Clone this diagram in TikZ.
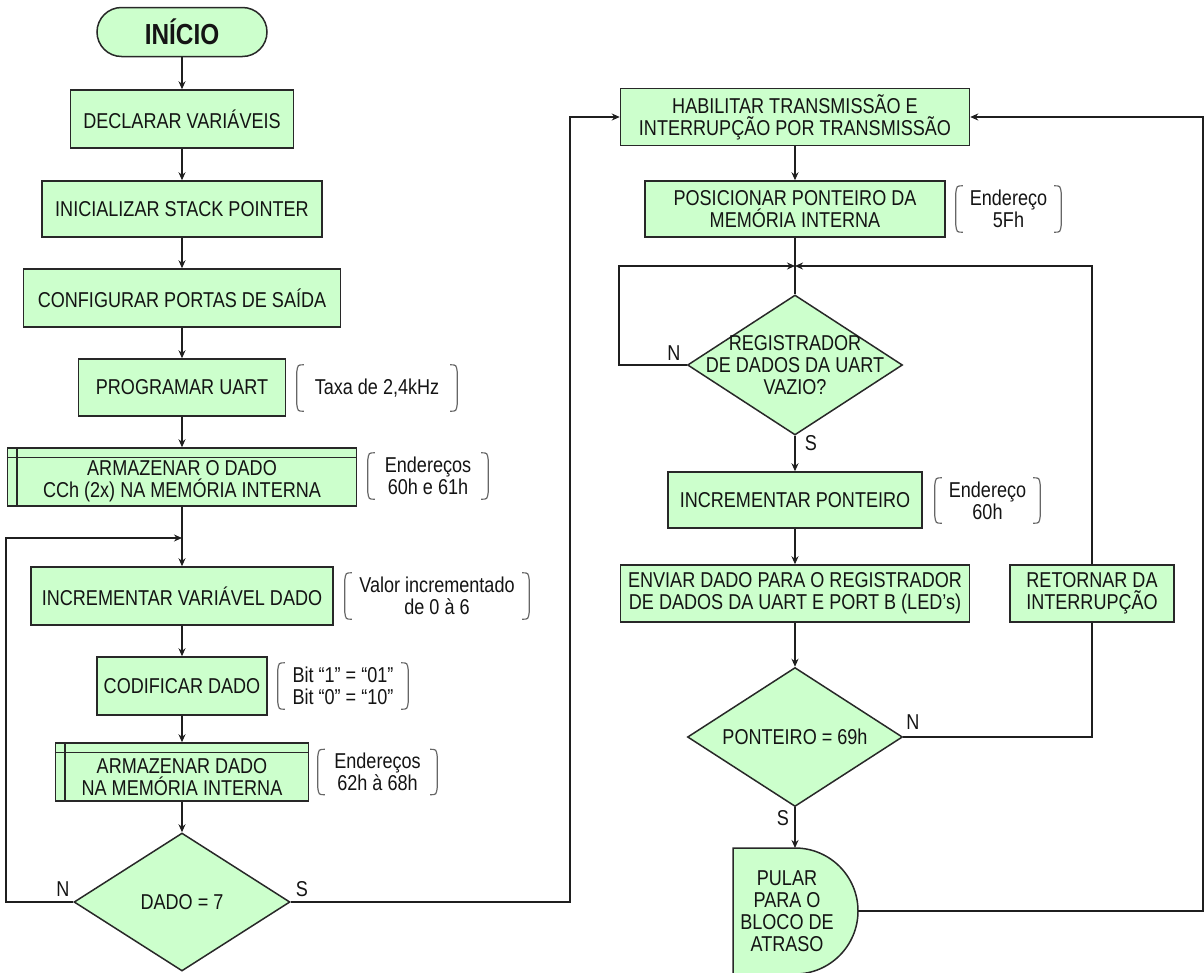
\documentclass[tikz,border=0pt]{standalone}
\usepackage{fontspec}
\setmainfont{Liberation Sans}[FakeStretch=0.84]
\usepackage{tikz}
\usetikzlibrary{shapes.geometric}
\usetikzlibrary{arrows.meta}

\definecolor{boxgreen}{RGB}{204,255,204}
\definecolor{edgegray}{RGB}{40,40,40}

\begin{document}
\begin{tikzpicture}[x=1pt, y=-1pt,
  every node/.style={font=\fontsize{21.5}{22}\selectfont, text=black!92, align=center},
  proc/.style={draw=edgegray, line width=1.5pt, fill=boxgreen, inner sep=0pt},
  decision/.style={diamond, draw=edgegray, line width=1.5pt, fill=boxgreen, inner sep=0pt},
  note/.style={inner sep=0pt},
  flow/.style={line width=1.8pt, draw=black!88},
  arr/.style={flow, -{Stealth[length=8pt,width=7pt]}},
  brk/.style={line width=1.2pt, draw=black!60}]
\useasboundingbox (0,0) rectangle (1204,972);

% coluna principal
\node[proc, rounded corners=24.5pt, minimum width=170, minimum height=49,
      font=\fontsize{29}{30}\selectfont\bfseries] (inicio) at (182,32) {INÍCIO};
\node[proc, minimum width=223, minimum height=58] (decl) at (182,119) {DECLARAR VARIÁVEIS};
\node[proc, minimum width=280, minimum height=56] (stack) at (182,209) {INICIALIZAR STACK POINTER};
\node[proc, minimum width=317, minimum height=58] (portas) at (182,298) {CONFIGURAR PORTAS DE SAÍDA};
\node[proc, minimum width=207, minimum height=57] (uart) at (182,387.5) {PROGRAMAR UART};
\node[proc, minimum width=349, minimum height=58,
      label={[yshift=-4pt]center:ARMAZENAR O DADO\\CCh (2x) NA MEMÓRIA INTERNA}] (armA) at (182,477) {};
\node[proc, minimum width=302, minimum height=58] (incvar) at (182,596) {INCREMENTAR VARIÁVEL DADO};
\node[proc, minimum width=170, minimum height=58] (cod) at (182,686) {CODIFICAR DADO};
\node[proc, minimum width=253, minimum height=58,
      label={[yshift=-5pt]center:ARMAZENAR DADO\\NA MEMÓRIA INTERNA}] (armB) at (182,772) {};
\node[decision, minimum width=216, minimum height=138,
      label={center:DADO = 7}] (dado) at (182,902) {};

% anotacoes
\node[note, minimum width=160, minimum height=46] (n1) at (377,388) {Taxa de 2,4kHz};
\node[note, minimum width=120, minimum height=46] (n2) at (428,476) {Endereços\\60h e 61h};
\node[note, minimum width=184, minimum height=46] (n3) at (437,596) {Valor incrementado\\de 0 à 6};
\node[note, minimum width=130, minimum height=46] (n4) at (343,686) {Bit “1” = “01”\\Bit “0” = “10”};
\node[note, minimum width=119, minimum height=45] (n5) at (377.5,772) {Endereços\\62h à 68h};

% coluna da transmissao
\node[proc, minimum width=349, minimum height=57] (hab) at (795,117) {HABILITAR TRANSMISSÃO E\\INTERRUPÇÃO POR TRANSMISSÃO};
\node[proc, minimum width=300, minimum height=56] (pos) at (795,209) {POSICIONAR PONTEIRO DA\\MEMÓRIA INTERNA};
\node[decision, minimum width=215, minimum height=140,
      label={[align=center]center:REGISTRADOR\\DE DADOS DA UART\\VAZIO?}] (reg) at (795,365) {};
\node[proc, minimum width=254, minimum height=56] (incp) at (795,500) {INCREMENTAR PONTEIRO};
\node[proc, minimum width=349, minimum height=57] (env) at (795,593.5) {ENVIAR DADO PARA O REGISTRADOR\\DE DADOS DA UART E PORT B (LED's)};
\node[proc, minimum width=164, minimum height=57] (ret) at (1092,593.5) {RETORNAR DA\\INTERRUPÇÃO};
\node[decision, minimum width=215, minimum height=139,
      label={center:PONTEIRO = 69h}] (pont) at (795,737) {};

\node[note, minimum width=105, minimum height=46] (n6) at (1008.5,209) {Endereço\\5Fh};
\node[note, minimum width=105, minimum height=45] (n7) at (987.5,500.5) {Endereço\\60h};

% bloco de atraso
\filldraw[draw=edgegray, line width=1.5pt, fill=boxgreen]
  (733,848) -- (795,848) .. controls (829.8,848) and (858,876.2) .. (858,911)
  .. controls (858,945.8) and (829.8,974) .. (795,974) -- (733,974) -- cycle;
\node (delay) at (787,911) {PULAR\\PARA O\\BLOCO DE\\ATRASO};
\coordinate (delaytop) at (795,848);
\coordinate (delayout) at (858,911);

% linhas internas dos processos predefinidos
\foreach \n in {armA,armB}
  \draw[draw=edgegray, line width=1.5pt]
    ([yshift=-10pt]\n.north west) -- ([yshift=-10pt]\n.north east)
    ([xshift=10pt]\n.north west) -- ([xshift=10pt]\n.south west);

% colchetes das anotacoes
\foreach \n in {n1,n2,n3,n4,n5,n6,n7}{
  \draw[brk] ([xshift=7pt]\n.north west) .. controls ([xshift=1pt]\n.north west) .. ([yshift=-7pt]\n.north west)
    -- ([yshift=7pt]\n.south west) .. controls ([xshift=1pt]\n.south west) .. ([xshift=7pt]\n.south west);
  \draw[brk] ([xshift=-7pt]\n.north east) .. controls ([xshift=-1pt]\n.north east) .. ([yshift=-7pt]\n.north east)
    -- ([yshift=7pt]\n.south east) .. controls ([xshift=-1pt]\n.south east) .. ([xshift=-7pt]\n.south east);
}

% fluxo
\draw[arr] (inicio) -- (decl);
\draw[arr] (decl) -- (stack);
\draw[arr] (stack) -- (portas);
\draw[arr] (portas) -- (uart);
\draw[arr] (uart) -- (armA);
\draw[arr] (armA) -- (incvar);
\draw[arr] (incvar) -- (cod);
\draw[arr] (cod) -- (armB);
\draw[arr] (armB) -- (dado);
\coordinate (loopA) at (182,538);
\draw[arr] (dado.west) -- ++(-67,0) |- (loopA);
\draw[arr] (dado.east) -- ++(279,0) |- (hab.west);
\node at (63,889) {N};
\node at (302,889) {S};

\draw[arr] (hab) -- (pos);
\coordinate (loopB) at (795,266);
\draw[flow] (pos) -- (reg.north);
\draw[arr] (reg.west) -- ++(-68,0) |- (loopB);
\draw[arr] (reg) -- (incp);
\draw[arr] (incp) -- (env);
\draw[arr] (env) -- (pont);
\draw[arr] (pont) -- (delaytop);
\draw[flow] (pont.east) -| (ret.south);
\draw[arr] (ret.north) |- (loopB);
\draw[arr] (delayout) -- ++(345,0) |- (hab.east);
\node at (674,353) {N};
\node at (811,443) {S};
\node at (913,722) {N};
\node at (783,818) {S};
\end{tikzpicture}
\end{document}
